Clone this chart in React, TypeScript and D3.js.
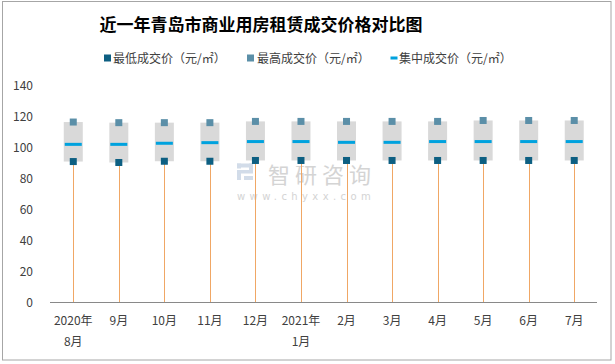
import React from "react";
import * as d3 from "d3";

const categories = ["2020年8月", "9月", "10月", "11月", "12月", "2021年1月", "2月", "3月", "4月", "5月", "6月", "7月"];
const categoryLines = [["2020年", "8月"], ["9月"], ["10月"], ["11月"], ["12月"], ["2021年", "1月"], ["2月"], ["3月"], ["4月"], ["5月"], ["6月"], ["7月"]];
const lowPrice = [90.8, 90.2, 91.0, 91.0, 91.5, 91.5, 91.5, 91.5, 91.5, 91.5, 91.5, 91.5];
const highPrice = [116.3, 115.9, 115.9, 115.9, 116.7, 116.7, 116.7, 116.7, 116.7, 117.3, 117.3, 117.3];
const midPrice = [101.9, 101.9, 102.6, 103.0, 103.7, 103.7, 103.2, 103.2, 103.7, 103.7, 103.7, 103.7];
const yTicks = [0, 20, 40, 60, 80, 100, 120, 140];
const title = "近一年青岛市商业用房租赁成交价格对比图";
const legendLabels = ["最低成交价（元/㎡）", "最高成交价（元/㎡）", "集中成交价（元/㎡）"];

const W = 615;
const H = 364;
const FONT = "'Noto Sans CJK SC', 'Noto Sans', sans-serif";
const C_LOW = "#0d5f82";
const C_HIGH = "#5b8fa8";
const C_MID = "#00a2de";
const C_BOX = "#d9d9d9";
const C_STEM = "#f0a765";
const C_TEXT = "#404040";

export default function App() {
  const x = d3.scaleBand<string>().domain(categories).range([50.5, 597]);
  const y = d3.scaleLinear().domain([0, 140]).range([302.3, 85.3]);
  const cx = (c: string) => (x(c) as number) + x.bandwidth() / 2;
  const boxW = 19;
  const mk = 7;
  const medW = 17;

  return (
    <svg width={W} height={H} style={{ position: "absolute", left: 0, top: 0, background: "#fff" }} fontFamily={FONT}>
      <rect x={0} y={0} width={W} height={H} fill="#fff" />
      <rect x={2.5} y={1.5} width={608.5} height={358.5} fill="none" stroke="#a6a6a6" strokeWidth={1} />

      <text x={261} y={31} textAnchor="middle" fontSize={17} fontWeight="bold" fill="#000">{title}</text>

      {/* legend */}
      <g fontSize={12} fill={C_TEXT}>
        <rect x={104} y={54.5} width={7} height={7} fill={C_LOW} />
        <text x={113} y={62.5}>{legendLabels[0]}</text>
        <rect x={247} y={54.5} width={7} height={7} fill={C_HIGH} />
        <text x={257} y={62.5}>{legendLabels[1]}</text>
        <rect x={390.5} y={56.5} width={7} height={3} fill={C_MID} />
        <text x={399} y={62.5}>{legendLabels[2]}</text>
      </g>

      {/* y axis labels */}
      <g fontSize={12} fill={C_TEXT} textAnchor="end">
        {yTicks.map((t) => (
          <text key={t} x={33} y={y(t) + 4.3}>{t}</text>
        ))}
      </g>

      {/* watermark */}
      <g opacity={0.75}>
        <g fill="#c3d1e2">
          <rect x={237} y={163.5} width={16} height={4} />
          <rect x={249} y={163.5} width={4} height={9} />
          <rect x={237} y={170} width={16} height={3.5} />
          <rect x={237} y={170} width={4} height={10} />
          <rect x={244} y={176} width={9} height={4} />
          <rect x={237} y={163.5} width={4} height={5} />
        </g>
        <text x={268} y={183} fontSize={22} fill="#c6c6c6" letterSpacing={5}>智研咨询</text>
        <text x={237} y={200} fontSize={10} fontFamily="'DejaVu Sans', sans-serif" fill="#c6c6c6" letterSpacing={4.4}>www.chyxx.com</text>
      </g>

      {/* stems */}
      {categories.map((c, i) => (
        <line key={"s" + i} x1={Math.round(cx(c)) + 0.5} x2={Math.round(cx(c)) + 0.5} y1={y(0)} y2={y(lowPrice[i])} stroke={C_STEM} strokeWidth={1} />
      ))}

      {/* boxes */}
      {categories.map((c, i) => (
        <rect key={"b" + i} x={cx(c) - boxW / 2} y={y(highPrice[i])} width={boxW} height={y(lowPrice[i]) - y(highPrice[i])} fill={C_BOX} />
      ))}

      {/* median */}
      {categories.map((c, i) => (
        <rect key={"m" + i} x={cx(c) - medW / 2} y={y(midPrice[i]) - 1.5} width={medW} height={3} fill={C_MID} />
      ))}

      {/* high markers */}
      {categories.map((c, i) => (
        <rect key={"h" + i} x={cx(c) - mk / 2} y={y(highPrice[i]) - mk / 2} width={mk} height={mk} fill={C_HIGH} />
      ))}

      {/* low markers */}
      {categories.map((c, i) => (
        <rect key={"l" + i} x={cx(c) - mk / 2} y={y(lowPrice[i]) - mk / 2} width={mk} height={mk} fill={C_LOW} />
      ))}

      {/* x axis */}
      <line x1={50} x2={597} y1={302.5} y2={302.5} stroke="#898989" strokeWidth={1} />
      <g fontSize={12} fill={C_TEXT} textAnchor="middle">
        {categories.map((c, i) => (
          <text key={"x" + i} x={cx(c)}>
            {categoryLines[i].map((ln, j) => (
              <tspan key={j} x={cx(c)} y={325 + j * 20.5}>{ln}</tspan>
            ))}
          </text>
        ))}
      </g>
    </svg>
  );
}
